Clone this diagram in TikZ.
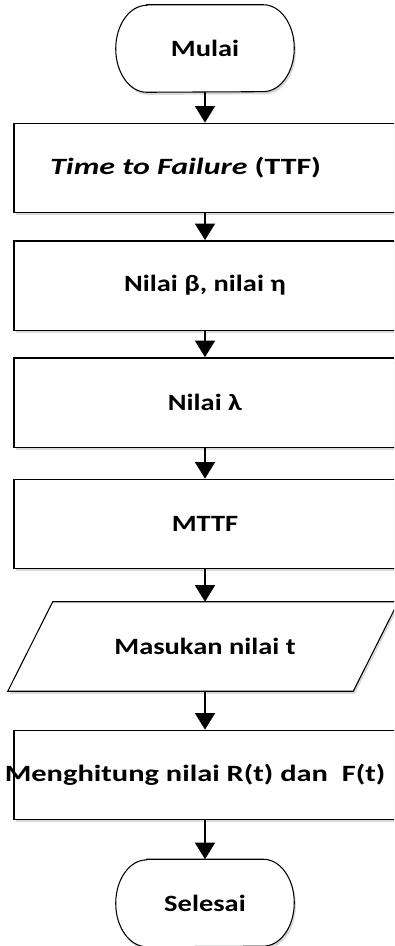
\documentclass[tikz,border=0pt]{standalone}
\usepackage{fontspec}
\setmainfont{Carlito}[FakeStretch=1.22]
\usetikzlibrary{arrows.meta,shadows,calc}
\begin{document}
\begin{tikzpicture}[x=0.75pt,y=-0.75pt,
  font=\bfseries\fontsize{17.5}{20}\selectfont,
  shad/.style={drop shadow={opacity=0.3,shadow xshift=1.2pt,shadow yshift=-2pt}},
  box/.style={draw,line width=1pt,fill=white,minimum width=286.5pt,minimum height=67pt,inner sep=0pt,shad},
  term/.style={minimum width=133.5pt,minimum height=65.25pt,inner sep=0pt},
  termline/.style={draw,line width=0.8pt,fill=white,shad},
  para/.style={minimum width=292.5pt,minimum height=66.75pt,inner sep=0pt},
  arr/.style={line width=1.5pt,-{Triangle[width=15pt,length=12.5pt]}}]
\useasboundingbox (0,0) rectangle (394,946);
\clip (0,0) rectangle (394,946);
% terminals
\node[term] (m) at (205,48.5) {};
\path[termline] ($(m.north west)+(31,0)$) -- ($(m.north east)+(-31,0)$)
  arc[start angle=90,end angle=-90,x radius=23.25pt,y radius=32.6pt]
  -- ($(m.south west)+(31,0)$)
  arc[start angle=270,end angle=90,x radius=23.25pt,y radius=32.6pt] -- cycle;
\node at (m.center) {Mulai};
\node[box] (b1) at (205,168) {\hbox to 0pt{\hss\scalebox{1.12}[1]{\textit{Time to Failure} (TTF)}\hskip 29pt\hss}};
\node[box] (b2) at (205,285.5) {Nilai β, nilai η};
\node[box] (b3) at (205,402.5) {Nilai λ};
\node[box] (b4) at (205,524) {MTTF};
\node[para] (p) at (203,646.5) {};
\path[termline] (p.south west) -- ($(p.north west)+(45,0)$) -- (p.north east) -- ($(p.south east)+(-45,0)$) -- cycle;
\node at (205,646.5) {Masukan nilai t};
\node[box] (b6) at (205,775) {\hbox to 0pt{\hss\scalebox{1.07}[1]{Menghitung nilai R(t) dan\ \ F(t)}\hskip 15pt\hss}};
\node[term] (s) at (205,903) {};
\path[termline] ($(s.north west)+(31,0)$) -- ($(s.north east)+(-31,0)$)
  arc[start angle=90,end angle=-90,x radius=23.25pt,y radius=32.6pt]
  -- ($(s.south west)+(31,0)$)
  arc[start angle=270,end angle=90,x radius=23.25pt,y radius=32.6pt] -- cycle;
\node at (s.center) {Selesai};
% arrows
\draw[arr] (m.south) -- (b1.north);
\draw[arr] (b1.south) -- (b2.north);
\draw[arr] (b2.south) -- (b3.north);
\draw[arr] (b3.south) -- (b4.north);
\draw[arr] (b4.south) -- (b4.south |- p.north);
\draw[arr] (b4.south |- p.south) -- (b6.north);
\draw[arr] (b6.south) -- (s.north);
\end{tikzpicture}
\end{document}
